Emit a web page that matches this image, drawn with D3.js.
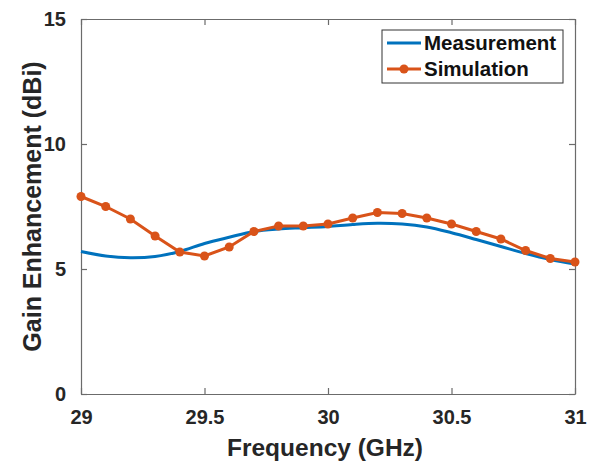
<!DOCTYPE html>
<html>
<head>
<meta charset="utf-8">
<script src="https://cdn.jsdelivr.net/npm/d3@7"></script>
<style>
  body { margin: 0; background: #fff; }
  svg { font-family: "Liberation Sans", Arial, sans-serif; font-weight: bold; }
</style>
</head>
<body>
<svg id="chart" width="602" height="462"></svg>
<script>
// frequency (GHz)
const simFreq = [29.0, 29.1, 29.2, 29.3, 29.4, 29.5, 29.6, 29.7, 29.8, 29.9, 30.0,
                 30.1, 30.2, 30.3, 30.4, 30.5, 30.6, 30.7, 30.8, 30.9, 31.0];
const simGain = [7.9, 7.5, 7.0, 6.32, 5.68, 5.52, 5.88, 6.5, 6.72, 6.72, 6.8,
                 7.04, 7.26, 7.22, 7.04, 6.8, 6.5, 6.2, 5.74, 5.42, 5.28];
const measFreq = simFreq;
const measGain = [5.7, 5.52, 5.45, 5.5, 5.7, 6.02, 6.27, 6.5, 6.6, 6.65, 6.7,
                  6.78, 6.83, 6.8, 6.68, 6.45, 6.18, 5.9, 5.62, 5.38, 5.2];
const xTicks = [29, 29.5, 30, 30.5, 31];
const yTicks = [0, 5, 10, 15];
const seriesNames = ['Measurement', 'Simulation'];

const blue = '#0072BD', orange = '#D95319';
const textColor = '#262626', axisColor = '#6b6b6b';

const margin = { top: 19, right: 27, bottom: 68, left: 81 };
const W = 602, H = 462;
const width = W - margin.left - margin.right;
const height = H - margin.top - margin.bottom;

const svg = d3.select('#chart');
const g = svg.append('g').attr('transform', 'translate(' + margin.left + ',' + margin.top + ')');

const x = d3.scaleLinear().domain([29, 31]).range([0, width]);
const y = d3.scaleLinear().domain([0, 15]).range([height, 0]);

// axes, ticks pointing inward like matlab
function styleAxis(sel, showText) {
    sel.select('.domain').attr('stroke', axisColor).attr('stroke-width', 1.2);
    sel.selectAll('.tick line').attr('stroke', axisColor).attr('stroke-width', 1.2);
    sel.selectAll('.tick text')
        .attr('fill', textColor)
        .style('font-size', '20px')
        .style('display', showText ? null : 'none');
}
const fmt = d => String(d);

g.append('g').attr('transform', 'translate(0,' + height + ')')
    .call(d3.axisBottom(x).tickValues(xTicks).tickFormat(fmt).tickSizeInner(-6).tickSizeOuter(0).tickPadding(16))
    .call(s => styleAxis(s, true));
g.append('g')
    .call(d3.axisTop(x).tickValues(xTicks).tickSizeInner(-6).tickSizeOuter(0))
    .call(s => styleAxis(s, false));
g.append('g')
    .call(d3.axisLeft(y).tickValues(yTicks).tickFormat(fmt).tickSizeInner(-6).tickSizeOuter(0).tickPadding(15))
    .call(s => styleAxis(s, true));
g.append('g').attr('transform', 'translate(' + width + ',0)')
    .call(d3.axisRight(y).tickValues(yTicks).tickSizeInner(-6).tickSizeOuter(0))
    .call(s => styleAxis(s, false));

const measData = measFreq.map((f, i) => ({ f: f, v: measGain[i] }));
const simData = simFreq.map((f, i) => ({ f: f, v: simGain[i] }));

// measurement is a smooth curve
g.append('path')
    .datum(measData)
    .attr('fill', 'none')
    .attr('stroke', blue)
    .attr('stroke-width', 3)
    .attr('d', d3.line().x(d => x(d.f)).y(d => y(d.v)).curve(d3.curveCatmullRom));

g.append('path')
    .datum(simData)
    .attr('fill', 'none')
    .attr('stroke', orange)
    .attr('stroke-width', 3)
    .attr('d', d3.line().x(d => x(d.f)).y(d => y(d.v)));

g.selectAll('.sim-dot')
    .data(simData)
    .enter().append('circle')
    .attr('class', 'sim-dot')
    .attr('cx', d => x(d.f))
    .attr('cy', d => y(d.v))
    .attr('r', 4.5)
    .attr('fill', orange);

// axis labels
g.append('text')
    .attr('x', width / 2 - 3)
    .attr('y', height + 62)
    .attr('text-anchor', 'middle')
    .attr('fill', textColor)
    .style('font-size', '24.5px')
    .text('Frequency (GHz)');

g.append('text')
    .attr('transform', 'translate(' + (-40) + ',' + (height / 2) + ') rotate(-90)')
    .attr('text-anchor', 'middle')
    .attr('fill', textColor)
    .style('font-size', '25px')
    .text('Gain Enhancement (dBi)');

// legend
const legend = g.append('g').attr('transform', 'translate(' + (x(29) + 301) + ',' + 11 + ')');
legend.append('rect')
    .attr('width', 181).attr('height', 53)
    .attr('fill', '#fff')
    .attr('stroke', '#333').attr('stroke-width', 1);
const rows = legend.selectAll('.row')
    .data(seriesNames)
    .enter().append('g')
    .attr('transform', (d, i) => 'translate(0,' + (13 + i * 26) + ')');
rows.append('line')
    .attr('x1', 5).attr('x2', 39)
    .attr('stroke', (d, i) => i === 0 ? blue : orange)
    .attr('stroke-width', 3);
rows.filter((d, i) => i === 1).append('circle')
    .attr('cx', 22).attr('r', 4.5).attr('fill', orange);
rows.append('text')
    .attr('x', 42).attr('y', 7)
    .attr('fill', '#111')
    .style('font-size', '20.5px')
    .text(d => d);
</script>
</body>
</html>
